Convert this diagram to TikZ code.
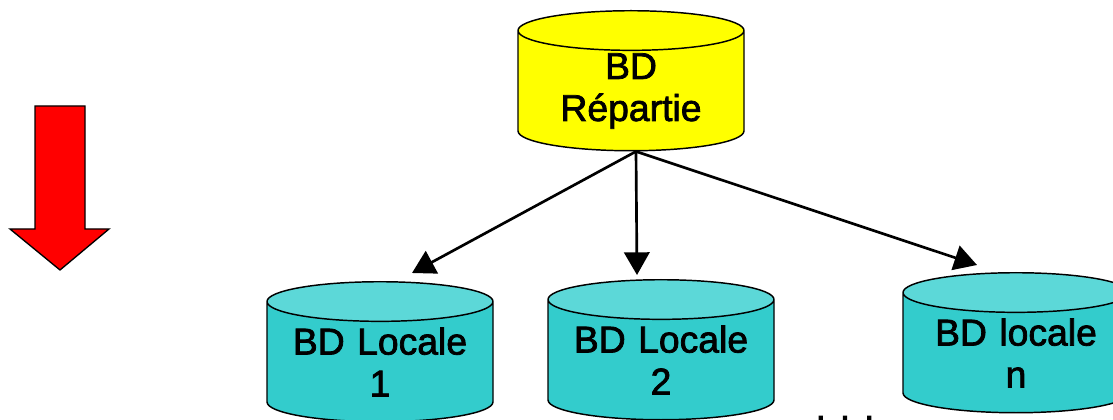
\documentclass[tikz,border=0pt]{standalone}
\usepackage{fontspec}
\setmainfont{Liberation Sans}[FakeBold=2]
\usetikzlibrary{shapes.geometric,arrows.meta}

\definecolor{bodyyellow}{RGB}{255,255,0}
\definecolor{bodyteal}{HTML}{33CCCC}
\definecolor{endteal}{HTML}{5CD8D8}
\tikzset{
    bdbase/.style={draw=black, line width=1.1pt, shape=cylinder, shape border rotate=90,
        aspect=0.225, cylinder uses custom fill, minimum width=169.5pt, minimum height=105pt,
        inner sep=0pt, text width=132pt, align=center,
        font=\fontsize{28}{31.5}\selectfont},
    bdyellow/.style={bdbase, cylinder body fill=bodyyellow, cylinder end fill=bodyyellow},
    bdteal/.style={bdbase, cylinder body fill=bodyteal, cylinder end fill=endteal},
    link/.style={-{Triangle[length=17pt, width=19pt]}, line width=2pt},
}

\begin{document}
\begin{tikzpicture}[x=0.75pt, y=-0.75pt]

    \useasboundingbox (0,0) rectangle (1113,420);
    \clip (0,0) rectangle (1113,420);

    \node[bdyellow] (rep) at (631,91) {BD\\Répartie};
    \node[bdteal] (loc1) at (380,362) {BD Locale\\1};
    \node[bdteal] (loc2) at (661,360) {BD Locale\\2};
    \node[bdteal] (locn) at (1016,353) {BD locale\\n};

    \coordinate (tip1) at (412,273);
    \coordinate (tip2) at (637,275);
    \coordinate (tipn) at (977,265);

    \draw[link] (rep.south) ++(5,0) coordinate (src) -- (tip1);
    \draw[link] (src) -- (tip2);
    \draw[link] (src) -- (tipn);

    % red arrow on the left
    \draw[fill=red, line width=1pt] (35,106) -- (85,106) -- (85,229) -- (109,229)
        -- (60,270) -- (10,229) -- (35,229) -- cycle;

    \node[anchor=base, inner sep=0pt, font=\fontsize{28}{31.5}\selectfont] (dots) at (845,420) {. . .};

\end{tikzpicture}
\end{document}
